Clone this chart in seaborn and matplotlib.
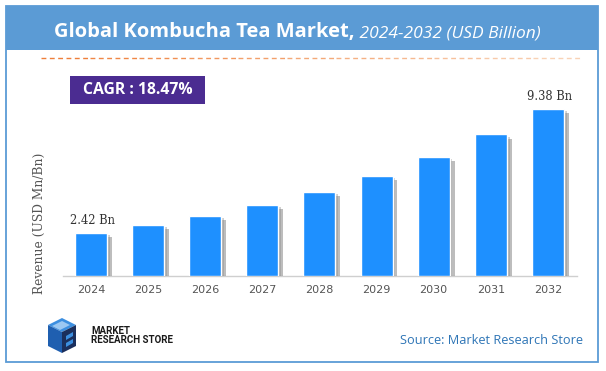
import matplotlib
matplotlib.use("Agg")
import matplotlib.pyplot as plt
import matplotlib.patheffects as pe
from matplotlib.patches import Rectangle, Polygon
from matplotlib.lines import Line2D
import seaborn as sns
import pandas as pd
import numpy as np

years = ["2024", "2025", "2026", "2027", "2028", "2029", "2030", "2031", "2032"]
revenue = [2.42, 2.85, 3.37, 3.99, 4.72, 5.62, 6.69, 7.93, 9.38]
label_idx = [0, 8]
title_main = "Global Kombucha Tea Market,"
title_sub = " 2024-2032 (USD Billion)"
cagr_text = "CAGR : 18.47%"
ylabel = "Revenue (USD Mn/Bn)"
source_text = "Source: Market Research Store"

W, H = 606, 371
sns.set_theme(style="white")
fig = plt.figure(figsize=(W / 100, H / 100), dpi=100)
fig.patch.set_facecolor("white")

def fx(x):
    return x / W

def fy(y):
    return 1 - y / H

# frame and title band
fig.add_artist(Rectangle((fx(6), fy(362)), fx(598) - fx(6), fy(6) - fy(362),
                         transform=fig.transFigure, facecolor="none",
                         edgecolor="#5B9BD5", lw=1.3, zorder=1))
fig.add_artist(Rectangle((fx(6), fy(50)), fx(598) - fx(6), fy(6) - fy(50),
                         transform=fig.transFigure, facecolor="#5B9BD5",
                         edgecolor="none", zorder=2))

# dashed gradient line
xs = np.linspace(41, 582, 12)
c0 = np.array(matplotlib.colors.to_rgb("#EF7F3A"))
c1 = np.array(matplotlib.colors.to_rgb("#F9D2B5"))
for k in range(len(xs) - 1):
    t = k / (len(xs) - 2)
    col = c0 * (1 - t) + c1 * t
    fig.add_artist(Line2D([fx(xs[k]), fx(xs[k + 1])], [fy(58), fy(58)],
                          transform=fig.transFigure, color=col, lw=1.0,
                          dashes=(3.5, 2.5), zorder=2))

# title
t1 = fig.text(fx(54), fy(37), title_main, color="white", fontsize=14.5,
              fontweight="bold", family="Open Sans", va="baseline", ha="left", zorder=3)
fig.canvas.draw()
bb = t1.get_window_extent()
fig.text(bb.x1 / W, fy(37), title_sub, color="white", fontsize=12.5,
         fontstyle="italic", family="Open Sans", va="baseline", ha="left", zorder=3)

# axes
ax_left, ax_right, ax_bottom = 63, 577, 276
px_per_unit = 17.85
ymax = 11.0
ax_top = ax_bottom - ymax * px_per_unit
ax = fig.add_axes([fx(ax_left), fy(ax_bottom), fx(ax_right) - fx(ax_left), fy(ax_top) - fy(ax_bottom)])
ax.set_facecolor("none")

df = pd.DataFrame({"year": years, "revenue": revenue})
sns.barplot(data=df, x="year", y="revenue", color="#1E90FF", saturation=1,
            width=0.56, ax=ax, zorder=3)
for p in ax.patches:
    p.set_path_effects([pe.SimplePatchShadow(offset=(3.5, -3), shadow_rgbFace="#6e6e6e", alpha=0.45),
                        pe.SimplePatchShadow(offset=(2, -1.5), shadow_rgbFace="#8a8a8a", alpha=0.4),
                        pe.Normal()])
ax.set_xlim(-0.49, 8.51)
ax.set_ylim(0, ymax)
ax.set_xlabel("")
ax.set_ylabel("")
ax.set_yticks([])
for s in ["top", "right", "left"]:
    ax.spines[s].set_visible(False)
ax.spines["bottom"].set_color("#cfcfcf")
ax.spines["bottom"].set_linewidth(1.0)
ax.tick_params(axis="x", length=0, pad=6.5, labelsize=8, labelcolor="#555555")
for lab in ax.get_xticklabels():
    lab.set_family("DejaVu Sans")

for i in label_idx:
    ax.annotate(f"{revenue[i]:.2f} Bn", xy=(i, revenue[i]), xytext=(1, 6.5),
                textcoords="offset points", ha="center", va="baseline",
                family="DejaVu Serif", fontsize=8.3, color="#333333")

# y label
fig.text(fx(39), fy(223.5), ylabel, rotation=90, ha="center", va="center",
         family="DejaVu Serif", fontsize=8.8, color="#555555")

# CAGR box
fig.add_artist(Rectangle((fx(70), fy(104)), fx(205) - fx(70), fy(76) - fy(104),
                         transform=fig.transFigure, facecolor="#4B2C91",
                         edgecolor="none", zorder=3))
fig.text(fx(137.5), fy(90), cagr_text, color="white", fontsize=11.3,
         fontweight="bold", family="Open Sans", ha="center", va="center", zorder=4)

# logo (simplified cube icon)
def poly(points, color):
    fig.add_artist(Polygon([(fx(a), fy(b)) for a, b in points], closed=True,
                           transform=fig.transFigure, facecolor=color,
                           edgecolor="none", zorder=3))

poly([(48, 325), (62, 318), (76, 325), (62, 332)], "#3C8FE0")
poly([(48, 325), (62, 332), (62, 353), (48, 346)], "#1F5FB0")
poly([(62, 332), (76, 325), (76, 346), (62, 353)], "#1B2F5C")
poly([(52, 326), (62, 321), (70, 325), (60, 330)], "#9CC8F2")
poly([(66, 336), (73, 332), (73, 336), (66, 340)], "#3C8FE0")
poly([(66, 343), (73, 339), (73, 343), (66, 347)], "#3C8FE0")
fig.text(fx(91), fy(334), "MARKET", family="Roboto", fontweight="bold",
         fontsize=7.0, color="#1a1a1a", ha="left", va="baseline")
fig.text(fx(91), fy(343), "RESEARCH STORE", family="Roboto", fontweight="bold",
         fontsize=7.0, color="#1a1a1a", ha="left", va="baseline")

# source
fig.text(fx(583), fy(341), source_text, family="Open Sans", fontsize=9.2,
         color="#2E75B6", ha="right", va="center")

fig.savefig("out.png", dpi=100)
